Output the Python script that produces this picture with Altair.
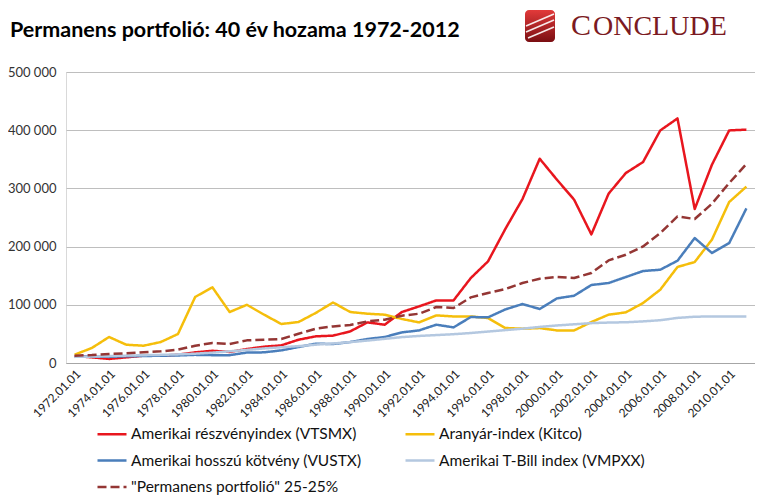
import altair as alt
import pandas as pd

# ---------------- data ----------------
years = [f"{y}.01.01" for y in range(1972, 2012)]
tick_labels = years[::2]

series = [
    "Amerikai részvényindex (VTSMX)",
    "Aranyár-index (Kitco)",
    "Amerikai hosszú kötvény (VUSTX)",
    "Amerikai T-Bill index (VMPXX)",
    '"Permanens portfolió" 25-25%',
]

stocks = [12000, 9700, 7000, 9700, 12500, 12500, 14300, 18300, 21000, 19000,
          24000, 28000, 30300, 40000, 45800, 47000, 54300, 69800, 65800, 87600,
          97300, 107600, 107600, 146000, 174600, 230000, 281700, 351000, 315000, 280600,
          221000, 290900, 326400, 345300, 399600, 420200, 264600, 340700, 399600, 401000]
gold = [14300, 25800, 44700, 31400, 29700, 36000, 49800, 113500, 130000, 87600,
        100000, 83000, 67000, 70400, 86000, 104000, 87600, 84700, 83000, 75600,
        69800, 81800, 80000, 80000, 77300, 60100, 59000, 60000, 56000, 56000,
        70400, 83000, 87000, 103000, 126000, 165000, 173500, 212000, 276600, 303000]
bonds = [11000, 11000, 10500, 11500, 12000, 12500, 13000, 14000, 13500, 13500,
         18000, 18300, 21700, 27500, 33200, 32600, 36000, 41200, 44700, 52600,
         56000, 65800, 61200, 79000, 78400, 92000, 101300, 92800, 111000, 115600,
         134000, 137400, 147700, 158000, 160300, 175700, 214700, 189000, 206000, 265600]
tbills = [10500, 11000, 11800, 12700, 13400, 14000, 14800, 16000, 17800, 20000,
          22500, 25000, 27000, 29000, 31500, 33500, 36000, 38500, 41500, 44500,
          46500, 48000, 49500, 51500, 54000, 56500, 59000, 62000, 64500, 66500,
          68500, 69500, 70000, 71500, 73500, 77500, 79500, 80000, 80000, 80000]
perm = [12600, 13700, 15500, 16600, 18300, 20000, 22900, 29700, 34400, 32600,
        38900, 40000, 41200, 50300, 58900, 62900, 65300, 71500, 74400, 81300,
        84700, 96200, 94500, 112700, 120300, 127000, 137400, 144800, 147700, 146000,
        154600, 176300, 186000, 200300, 223300, 251900, 247400, 273700, 309200, 341900]

y_ticks = [0, 100000, 200000, 300000, 400000, 500000]

title_text = "Permanens portfolió: 40 év hozama 1972-2012"
logo_first = "C"
logo_rest_text = "ONCLUDE"

# ---------------- styles ----------------
colors = ["#E8161E", "#F5BE0B", "#4A7EBB", "#B4C8E0", "#943634"]
dashes = [[1, 0], [1, 0], [1, 0], [1, 0], [9, 4]]
widths = [2.5, 2.5, 2.5, 2.5, 4]
FONT = "Lato"

rows = []
for name, vals in zip(series, [stocks, gold, bonds, tbills, perm]):
    for d, v in zip(years, vals):
        rows.append({"date": d, "value": v, "series": name})
df = pd.DataFrame(rows)

legend_kw = dict(orient="none", legendX=30, legendY=346, columns=2,
                 direction="horizontal", title=None, symbolType="stroke",
                 symbolSize=841, symbolStrokeWidth=3, labelFont=FONT,
                 labelFontSize=15.5, labelColor="#111111", labelLimit=400,
                 labelOffset=3, rowPadding=1.5, columnPadding=38, padding=0)

lines = alt.Chart(df).mark_line(strokeJoin="round").encode(
    x=alt.X("date:O", sort=years,
            scale=alt.Scale(type="point", padding=0.5),
            axis=alt.Axis(values=tick_labels, labelAngle=-45, title=None,
                          ticks=False, grid=False, labelFont=FONT,
                          labelFontSize=12, labelColor="#222222",
                          labelPadding=5, domainColor="#A6A6A6")),
    y=alt.Y("value:Q",
            scale=alt.Scale(domain=[0, 500000], nice=False),
            axis=alt.Axis(values=y_ticks, title=None, ticks=False,
                          domain=False, gridColor="#BEBEBE", labelFont=FONT,
                          labelFontSize=13, labelColor="#333333",
                          labelPadding=10,
                          labelExpr="datum.value == 0 ? '0' : format(datum.value / 1000, 'd') + ' 000'")),
    color=alt.Color("series:N", sort=series,
                    scale=alt.Scale(domain=series, range=colors),
                    legend=alt.Legend(**legend_kw)),
    strokeDash=alt.StrokeDash("series:N", sort=series,
                              scale=alt.Scale(domain=series, range=dashes),
                              legend=alt.Legend(**legend_kw)),
    strokeWidth=alt.StrokeWidth("series:N", sort=series,
                                scale=alt.Scale(domain=series, range=widths),
                                legend=None),
)

title = alt.Chart(pd.DataFrame({"t": [title_text]})).mark_text(
    align="left", baseline="alphabetic", font=FONT, fontSize=21.5,
    fontWeight="bold", color="#000000"
).encode(x=alt.value(-56), y=alt.value(-35), text="t:N")

logo_box = alt.Chart(pd.DataFrame({"a": [1]})).mark_rect(
    cornerRadius=4,
    color=alt.LinearGradient(gradient="linear", x1=0, y1=0, x2=0, y2=1,
                             stops=[alt.GradientStop(color="#E23A3A", offset=0),
                                    alt.GradientStop(color="#7A0E12", offset=1)])
).encode(x=alt.value(459), x2=alt.value(489), y=alt.value(-62), y2=alt.value(-30))

swoosh = alt.Chart(pd.DataFrame({"a": [1]})).mark_rule(
    color="white", strokeWidth=1.6, opacity=0.9)
logo_lines = [
    swoosh.encode(x=alt.value(460), x2=alt.value(488), y=alt.value(-46), y2=alt.value(-58)),
    swoosh.encode(x=alt.value(460), x2=alt.value(488), y=alt.value(-40), y2=alt.value(-52)),
    swoosh.encode(x=alt.value(462), x2=alt.value(488), y=alt.value(-34), y2=alt.value(-45)),
]

logo_c = alt.Chart(pd.DataFrame({"t": [logo_first]})).mark_text(
    align="left", baseline="alphabetic", font="Liberation Serif", fontSize=30,
    color="#7B1A22"
).encode(x=alt.value(505), y=alt.value(-37), text="t:N")

logo_rest = alt.Chart(pd.DataFrame({"t": [logo_rest_text]})).mark_text(
    align="left", baseline="alphabetic", font="Liberation Serif", fontSize=28,
    color="#7B1A22"
).encode(x=alt.value(527), y=alt.value(-37), text="t:N")

chart = alt.layer(lines, title, logo_box, *logo_lines, logo_c, logo_rest).properties(
    width=689, height=291,
    autosize=alt.AutoSizeParams(type="none"),
    padding={"left": 58, "top": 64, "right": 0, "bottom": 135},
).configure_view(stroke="#D9D9D9").configure_axis(gridWidth=1)

chart.save("out.html", embed_options={"renderer": "svg", "actions": False})
